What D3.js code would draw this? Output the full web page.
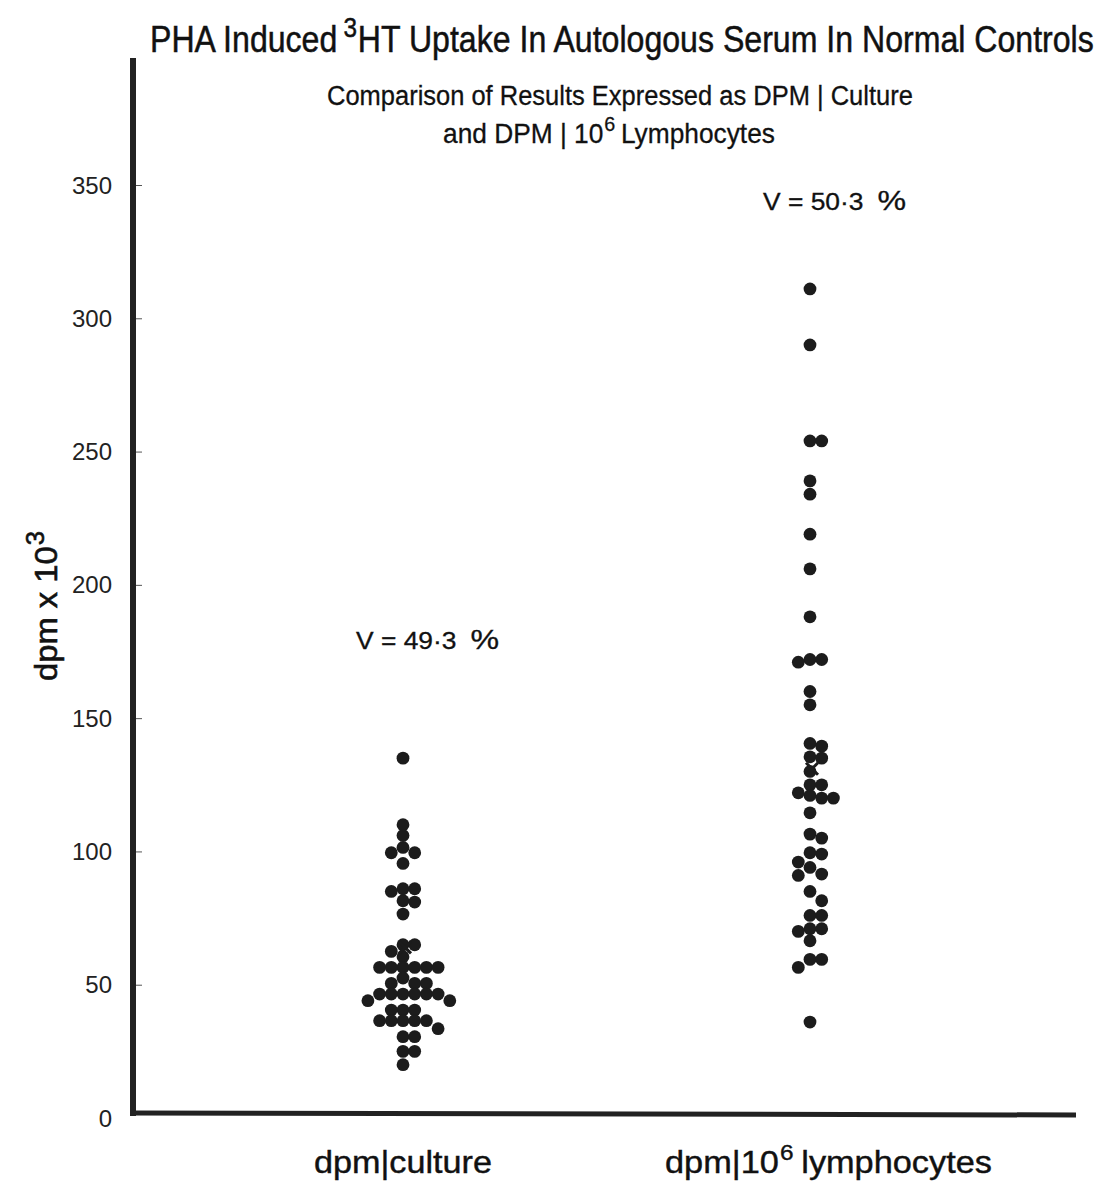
<!DOCTYPE html>
<html><head><meta charset="utf-8">
<script src="https://cdn.jsdelivr.net/npm/d3@7"></script>
<style>html,body{margin:0;padding:0;background:#fff;}</style>
</head><body>
<svg id="c" width="1106" height="1185"></svg>
<script>
// ---- data ----
const categories = ["dpm|culture", "dpm|10⁶ lymphocytes"];
const cultureValues = [135, 110, 106, 101.5, 99.5, 99.5, 95.5, 86, 86, 85, 81.5, 81, 76.5,
  65, 65, 62.5, 60.5, 56.5, 56.5, 56.5, 56.5, 56.5, 56.5, 52.5, 50.5, 50.5, 50.5,
  46.5, 46.5, 46.5, 46.5, 46.5, 46.5, 44, 44, 40.5, 40.5, 40.5,
  36.5, 36.5, 36.5, 36.5, 36.5, 33.5, 30.5, 30.5, 25, 25, 20];
const lymphoValues = [311, 290, 254, 254, 239, 234, 219, 206, 188, 172, 172, 171, 160, 155,
  140.5, 139.5, 135.5, 135, 130, 125, 125, 122, 121, 120, 120, 114.5, 106.5, 105,
  99.5, 99, 96, 94, 91.5, 91, 85, 81.5, 76, 76, 71, 71, 70, 66.5, 59.5, 59.5, 56.5, 36];
const meanValues = [64, 131];
const vLabels = ["V = 49·3", "V = 50·3"];
const vLabelValues = [179, 343.5];
const yTicks = [0, 50, 100, 150, 200, 250, 300, 350];

const svg = d3.select("#c");
const y = d3.scaleLinear().domain([0, 350]).range([1118, 185]);
const x = d3.scalePoint().domain(categories).range([403, 810]);
const font = "'Liberation Sans', Arial, sans-serif";

// lays out text pieces one after another, then scales the run horizontally to a width
function richLine(parent, pieces, x0, y0, width, sw) {
  const g = parent.append("g");
  let cx = 0;
  pieces.forEach(p => {
    const t = g.append("text").attr("x", cx).attr("y", p.dy || 0)
      .attr("font-family", font).attr("font-size", p.size).attr("fill", "#111").text(p.t);
    if (sw) t.attr("stroke", "#111").attr("stroke-width", sw);
    cx += t.node().getComputedTextLength() + (p.gap || 0);
  });
  const s = width ? width / cx : 1;
  g.attr("transform", `translate(${x0},${y0}) scale(${s},1)`);
  return g;
}

// ---- axes ----
const axisX = 133;
svg.append("line").attr("x1", axisX).attr("x2", axisX).attr("y1", 58).attr("y2", 1116)
  .attr("stroke", "#222").attr("stroke-width", 6);
svg.append("line").attr("x1", axisX - 3).attr("x2", 1076).attr("y1", 1113).attr("y2", 1115)
  .attr("stroke", "#222").attr("stroke-width", 5);

const yAxis = d3.axisRight(y).tickValues(yTicks.filter(d => d > 0)).tickSize(6).tickFormat("");
const gy = svg.append("g").attr("transform", `translate(${axisX + 3},0)`).call(yAxis);
gy.select(".domain").remove();
gy.selectAll(".tick line").attr("stroke", "#555").attr("stroke-width", 1);

svg.append("g").selectAll("text").data(yTicks).join("text")
  .attr("x", 112).attr("y", d => y(d)).attr("dy", "0.36em")
  .attr("text-anchor", "end").attr("font-family", font).attr("font-size", 24)
  .attr("fill", "#222").text(d => d);

// y label (rotated)
const yg = svg.append("g").attr("transform", "translate(57,0) rotate(-90)");
richLine(yg, [{t: "dpm x 10", size: 32, gap: 1}, {t: "3", size: 25, dy: -13}], -681, 0, 150, 0.6);

// ---- title ----
richLine(svg, [
  {t: "PHA Induced", size: 37, gap: 7},
  {t: "3", size: 28, dy: -15, gap: 1},
  {t: "HT Uptake In Autologous Serum In Normal Controls", size: 37}
], 150, 52, 944, 0.5);

richLine(svg, [{t: "Comparison of Results Expressed as DPM | Culture", size: 28}], 327, 105, 586, 0.3);
richLine(svg, [
  {t: "and DPM | 10", size: 28, gap: 1},
  {t: "6", size: 21, dy: -12, gap: 6},
  {t: "Lymphocytes", size: 28}
], 443, 143, 332, 0.3);

// ---- category labels ----
richLine(svg, [{t: "dpm|culture", size: 31}], x(categories[0]) - 89, 1173, 178, 0.4);
richLine(svg, [
  {t: "dpm|10", size: 31, gap: 1},
  {t: "6", size: 22, dy: -13, gap: 7},
  {t: "lymphocytes", size: 31}
], x(categories[1]) - 145, 1173, 327, 0.4);

// ---- dots (beeswarm dodge) ----
const r = 6.4, step = 11.7, minDist = 10.5;
function dodge(values, cat) {
  const placed = [];
  const sorted = values.slice().sort((a, b) => b - a);
  sorted.forEach(v => {
    const py = y(v);
    const order = [0, 1, -1, 2, -2, 3, -3, 4, -4];
    for (const k of order) {
      const px = x(cat) + k * step;
      if (placed.every(p => Math.hypot(p.x - px, p.y - py) >= minDist)) {
        placed.push({x: px, y: py, v});
        break;
      }
    }
  });
  return placed;
}
[cultureValues, lymphoValues].forEach((vals, i) => {
  const pts = dodge(vals, categories[i]);
  svg.append("g").selectAll("circle").data(pts).join("circle")
    .attr("cx", d => d.x).attr("cy", d => d.y).attr("r", r).attr("fill", "#1c1c1c");
});

// ---- mean markers ----
meanValues.forEach((m, i) => {
  const cx = x(categories[i]) + 2, cy = y(m);
  svg.append("path")
    .attr("d", `M${cx - 6},${cy - 6}L${cx + 6},${cy + 6}M${cx + 6},${cy - 6}L${cx - 6},${cy + 6}`)
    .attr("stroke", "#1c1c1c").attr("stroke-width", 3);
});

// ---- V labels ----
vLabels.forEach((lab, i) => {
  const bx = x(categories[i]) - 47, by = y(vLabelValues[i]) + 8;
  richLine(svg, [{t: lab, size: 23, gap: 12}, {t: "%", size: 28}], bx, by, 143, 0.3);
});
</script>
</body></html>
